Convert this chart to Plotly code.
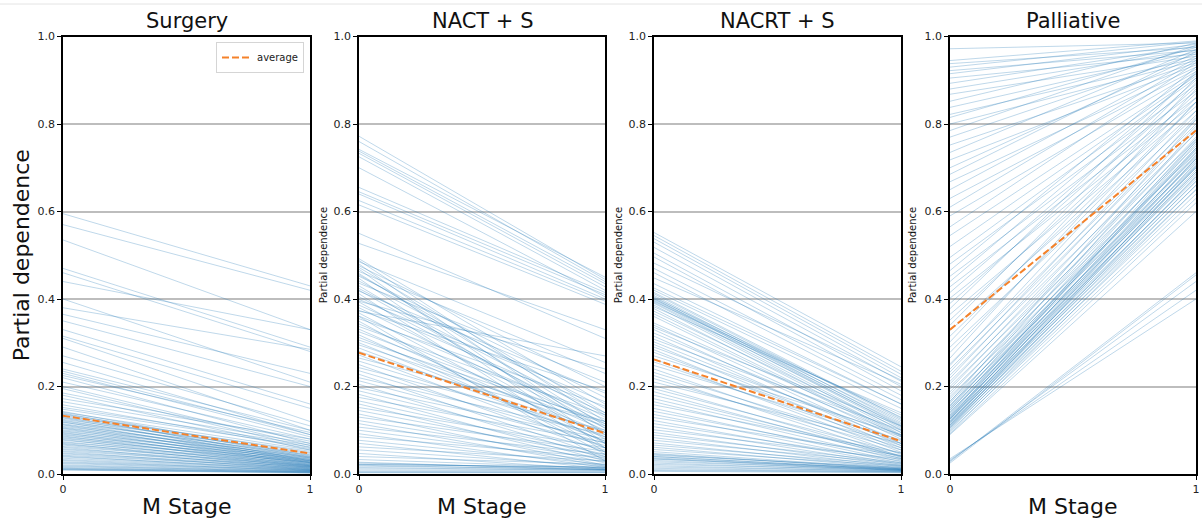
import plotly.graph_objects as go

# M Stage values on the x axis
m_stage = [0, 1]
x_tick_labels = ["0", "1"]
y_tick_values = [0.0, 0.2, 0.4, 0.6, 0.8, 1.0]
y_tick_labels = ["0.0", "0.2", "0.4", "0.6", "0.8", "1.0"]
panel_titles = ["Surgery", "NACT + S", "NACRT + S", "Palliative"]

# Individual conditional expectation curves: value at M=0 and at M=1
surgery_m0 = [0.595, 0.570, 0.535, 0.470, 0.460, 0.440, 0.400, 0.350, 0.330, 0.310, 0.290, 0.270,
              0.240, 0.235, 0.230, 0.225, 0.220, 0.210, 0.200, 0.195, 0.185, 0.180,
              0.148, 0.143, 0.141, 0.139, 0.137, 0.136, 0.133, 0.131, 0.129, 0.128, 0.125, 0.123,
              0.121, 0.119, 0.118, 0.115, 0.113, 0.112, 0.109, 0.107, 0.105, 0.104, 0.101, 0.099,
              0.097, 0.095, 0.093, 0.091, 0.089, 0.087, 0.085, 0.083, 0.081, 0.079, 0.077, 0.074,
              0.072, 0.070, 0.068, 0.066, 0.063, 0.061, 0.058, 0.056, 0.053, 0.051, 0.048, 0.046,
              0.043, 0.041, 0.039, 0.036, 0.033, 0.031, 0.028, 0.026, 0.024, 0.021, 0.019, 0.017,
              0.015, 0.013, 0.012, 0.011, 0.010, 0.009, 0.165, 0.172, 0.158, 0.152,
              0.380, 0.365, 0.315, 0.255]
surgery_m1 = [0.430, 0.420, 0.330, 0.290, 0.280, 0.330, 0.210, 0.200, 0.160, 0.120, 0.100, 0.110,
              0.100, 0.090, 0.085, 0.095, 0.070, 0.080, 0.065, 0.060, 0.075, 0.055,
              0.062, 0.041, 0.055, 0.038, 0.049, 0.030, 0.052, 0.036, 0.044, 0.027, 0.047, 0.033,
              0.040, 0.025, 0.043, 0.031, 0.037, 0.022, 0.039, 0.029, 0.034, 0.020, 0.036, 0.026,
              0.031, 0.018, 0.033, 0.024, 0.028, 0.016, 0.030, 0.021, 0.026, 0.014, 0.027, 0.019,
              0.024, 0.012, 0.022, 0.017, 0.020, 0.010, 0.019, 0.015, 0.017, 0.009, 0.016, 0.013,
              0.014, 0.008, 0.012, 0.011, 0.010, 0.007, 0.009, 0.008, 0.007, 0.006, 0.005, 0.006,
              0.004, 0.005, 0.004, 0.003, 0.003, 0.002, 0.070, 0.080, 0.058, 0.066,
              0.285, 0.230, 0.150, 0.090]

nact_m0 = [0.772, 0.760, 0.742, 0.738, 0.733, 0.725, 0.700, 0.655, 0.645, 0.640, 0.625, 0.615,
           0.550, 0.527,
           0.492, 0.488, 0.485, 0.480, 0.476, 0.472, 0.468, 0.463, 0.458, 0.452, 0.447, 0.441,
           0.436, 0.430, 0.424, 0.418, 0.412, 0.405, 0.399, 0.393, 0.386, 0.380, 0.374, 0.368,
           0.361, 0.355, 0.349, 0.343, 0.337, 0.331, 0.325, 0.318, 0.312, 0.306, 0.300, 0.372,
           0.395, 0.420, 0.455, 0.360,
           0.295, 0.288, 0.280, 0.272, 0.265, 0.258, 0.250, 0.243, 0.236, 0.228, 0.220, 0.213,
           0.205, 0.197, 0.190, 0.182, 0.175, 0.167, 0.160, 0.152, 0.145, 0.137, 0.130, 0.122,
           0.115, 0.107, 0.100, 0.092, 0.085, 0.077, 0.070, 0.062, 0.055, 0.047, 0.040, 0.033,
           0.027, 0.022, 0.018, 0.015, 0.012, 0.009, 0.006, 0.004, 0.003, 0.025, 0.022, 0.020]
nact_m1 = [0.445, 0.440, 0.450, 0.435, 0.428, 0.420, 0.405, 0.415, 0.410, 0.400, 0.395, 0.388,
           0.310, 0.330,
           0.160, 0.120, 0.255, 0.090, 0.200, 0.140, 0.070, 0.230, 0.110, 0.175, 0.060, 0.150,
           0.210, 0.095, 0.130, 0.185, 0.050, 0.115, 0.165, 0.080, 0.140, 0.105, 0.190, 0.070,
           0.125, 0.155, 0.045, 0.100, 0.135, 0.085, 0.115, 0.060, 0.095, 0.120, 0.075, 0.270,
           0.240, 0.105, 0.135, 0.030,
           0.110, 0.075, 0.095, 0.060, 0.120, 0.085, 0.050, 0.100, 0.070, 0.040, 0.090, 0.065,
           0.035, 0.080, 0.055, 0.030, 0.072, 0.045, 0.025, 0.060, 0.040, 0.020, 0.052, 0.033,
           0.018, 0.045, 0.028, 0.015, 0.038, 0.022, 0.012, 0.030, 0.018, 0.010, 0.022, 0.014,
           0.009, 0.016, 0.011, 0.008, 0.010, 0.007, 0.005, 0.004, 0.003, 0.012, 0.015, 0.010]

nacrt_m0 = [0.552, 0.545, 0.538, 0.530, 0.518, 0.505, 0.496, 0.482, 0.470, 0.460, 0.448, 0.435,
            0.412, 0.408, 0.405, 0.403, 0.401, 0.400, 0.398, 0.396, 0.394, 0.392, 0.390, 0.386,
            0.382, 0.378, 0.372, 0.366, 0.360, 0.420, 0.425, 0.415,
            0.345, 0.340, 0.335, 0.330, 0.322, 0.315, 0.308, 0.302, 0.296, 0.290, 0.284, 0.278,
            0.270, 0.263, 0.256, 0.248, 0.240, 0.232, 0.225, 0.218, 0.210, 0.202, 0.195, 0.188,
            0.180,
            0.172, 0.165, 0.158, 0.150, 0.143, 0.136, 0.129, 0.122, 0.115, 0.108, 0.101, 0.095,
            0.089, 0.083, 0.077, 0.071, 0.066, 0.061, 0.056, 0.051, 0.047, 0.043, 0.040, 0.037,
            0.034, 0.031, 0.028, 0.025, 0.022, 0.019, 0.016, 0.013, 0.010, 0.008, 0.006,
            0.045, 0.040, 0.035]
nacrt_m1 = [0.245, 0.235, 0.228, 0.220, 0.212, 0.200, 0.190, 0.215, 0.180, 0.170, 0.205, 0.160,
            0.125, 0.118, 0.112, 0.130, 0.108, 0.122, 0.115, 0.105, 0.135, 0.110, 0.100, 0.095,
            0.140, 0.090, 0.102, 0.088, 0.085, 0.150, 0.160, 0.128,
            0.095, 0.080, 0.110, 0.070, 0.088, 0.065, 0.100, 0.075, 0.060, 0.085, 0.055, 0.070,
            0.090, 0.050, 0.065, 0.078, 0.045, 0.060, 0.040, 0.055, 0.070, 0.038, 0.048, 0.035,
            0.042,
            0.040, 0.032, 0.048, 0.028, 0.036, 0.025, 0.042, 0.022, 0.030, 0.020, 0.034, 0.018,
            0.026, 0.016, 0.024, 0.014, 0.020, 0.013, 0.018, 0.012, 0.011, 0.015, 0.010, 0.009,
            0.012, 0.008, 0.010, 0.007, 0.009, 0.006, 0.007, 0.005, 0.005, 0.004, 0.003,
            0.012, 0.010, 0.008]

palliative_m0 = [0.972, 0.945, 0.938, 0.930, 0.922, 0.915, 0.905, 0.893, 0.880, 0.868, 0.852, 0.838,
                 0.822, 0.815, 0.800, 0.785, 0.770, 0.752, 0.735, 0.718, 0.700, 0.685, 0.668, 0.650,
                 0.630, 0.610, 0.590, 0.565, 0.545, 0.520,
                 0.495, 0.480, 0.465, 0.452, 0.440, 0.428, 0.415, 0.402, 0.390, 0.378, 0.365, 0.352,
                 0.340, 0.328, 0.315, 0.302, 0.290, 0.278, 0.265, 0.252,
                 0.248, 0.240, 0.233, 0.226, 0.219, 0.212, 0.206, 0.200, 0.194, 0.188, 0.182, 0.177,
                 0.172, 0.167, 0.162, 0.158, 0.154, 0.150, 0.146, 0.142, 0.138, 0.134, 0.130, 0.127,
                 0.124, 0.121, 0.118, 0.115, 0.112, 0.110, 0.107, 0.104, 0.101, 0.098, 0.095, 0.092,
                 0.090, 0.135, 0.145, 0.125, 0.155, 0.118, 0.165, 0.108, 0.128,
                 0.140, 0.120, 0.112, 0.132, 0.150, 0.105, 0.116, 0.126,
                 0.035, 0.030, 0.028, 0.025, 0.032]
palliative_m1 = [0.985, 0.990, 0.975, 0.988, 0.968, 0.982, 0.960, 0.978, 0.970, 0.955, 0.985, 0.965,
                 0.950, 0.975, 0.945, 0.980, 0.960, 0.940, 0.970, 0.935, 0.955, 0.965, 0.930, 0.950,
                 0.925, 0.945, 0.920, 0.940, 0.915, 0.910,
                 0.905, 0.890, 0.930, 0.875, 0.915, 0.860, 0.900, 0.850, 0.885, 0.920, 0.840, 0.870,
                 0.905, 0.830, 0.860, 0.895, 0.820, 0.850, 0.880, 0.810,
                 0.850, 0.800, 0.830, 0.780, 0.815, 0.765, 0.795, 0.750, 0.780, 0.735, 0.770, 0.725,
                 0.760, 0.715, 0.745, 0.705, 0.740, 0.700, 0.730, 0.690, 0.720, 0.685, 0.710, 0.675,
                 0.700, 0.668, 0.690, 0.660, 0.680, 0.650, 0.670, 0.640, 0.660, 0.630, 0.650, 0.620,
                 0.600, 0.760, 0.745, 0.735, 0.790, 0.720, 0.810, 0.705, 0.755,
                 0.742, 0.712, 0.695, 0.728, 0.765, 0.680, 0.702, 0.722,
                 0.400, 0.440, 0.460, 0.455, 0.420]

# Partial dependence averaged over samples
surgery_avg = [0.133, 0.047]
nact_avg = [0.277, 0.093]
nacrt_avg = [0.262, 0.075]
palliative_avg = [0.330, 0.785]

panels = [
    (surgery_m0, surgery_m1, surgery_avg),
    (nact_m0, nact_m1, nact_avg),
    (nacrt_m0, nacrt_m1, nacrt_avg),
    (palliative_m0, palliative_m1, palliative_avg),
]

W, H = 1202, 522
FONT = "DejaVu Sans"
# plot-area pixel boxes (left, right) and shared top/bottom
x_px = [(63, 310), (359, 605), (654, 901), (950, 1196)]
top_px, bottom_px = 36.5, 474

ICE_COLOR = "rgba(31,119,180,0.36)"
AVG_COLOR = "#f5822a"

fig = go.Figure()
for i, (m0, m1, avg) in enumerate(panels):
    xa = "x" if i == 0 else f"x{i + 1}"
    ya = "y" if i == 0 else f"y{i + 1}"
    for a, b in zip(m0, m1):
        fig.add_trace(go.Scatter(
            x=m_stage, y=[a, b], mode="lines",
            line=dict(color=ICE_COLOR, width=0.8),
            xaxis=xa, yaxis=ya, showlegend=False, hoverinfo="skip"))
    fig.add_trace(go.Scatter(
        x=m_stage, y=avg, mode="lines", name="average",
        line=dict(color=AVG_COLOR, width=2, dash="7px,3px"),
        xaxis=xa, yaxis=ya, showlegend=(i == 0)))

layout = dict(
    width=W, height=H,
    margin=dict(l=0, r=0, t=0, b=0),
    paper_bgcolor="white", plot_bgcolor="white",
    font=dict(family=FONT, color="#222222", size=11),
    legend=dict(
        x=304 / W, xanchor="right", y=1 - 42 / H, yanchor="top",
        bgcolor="rgba(255,255,255,0.8)", bordercolor="#d5d5d5", borderwidth=1,
        font=dict(family=FONT, size=10, color="#222222"),
        itemwidth=30, tracegroupgap=0,
    ),
)

y_dom = [1 - bottom_px / H, 1 - top_px / H]
annotations = []
for i, (l, r) in enumerate(x_px):
    key = "" if i == 0 else str(i + 1)
    layout[f"xaxis{key}"] = dict(
        domain=[l / W, r / W], anchor=f"y{key}", range=[0, 1],
        tickvals=m_stage, ticktext=x_tick_labels,
        showgrid=False, zeroline=False, automargin=False,
        showline=True, mirror=True, linecolor="black", linewidth=1.5,
        ticks="outside", ticklen=4, tickwidth=1, tickcolor="black",
        tickfont=dict(family=FONT, size=11, color="#222222"),
    )
    layout[f"yaxis{key}"] = dict(
        domain=y_dom, anchor=f"x{key}", range=[0, 1],
        tickvals=y_tick_values, ticktext=y_tick_labels,
        showgrid=True, gridcolor="#bdbdbd", gridwidth=1.5,
        zeroline=False, automargin=False,
        showline=True, mirror=True, linecolor="black", linewidth=1.5,
        ticks="outside", ticklen=4, tickwidth=1, tickcolor="black",
        tickfont=dict(family=FONT, size=11, color="#222222"),
    )
    cx = (l + r) / 2 / W
    annotations.append(dict(
        text=panel_titles[i], x=cx, y=1 - 35 / H, xref="paper", yref="paper",
        xanchor="center", yanchor="bottom", showarrow=False,
        font=dict(family=FONT, size=21, color="#111111")))
    if i != 2:
        annotations.append(dict(
            text="M Stage", x=cx, y=1 - 506 / H, xref="paper", yref="paper",
            xanchor="center", yanchor="middle", showarrow=False,
            font=dict(family=FONT, size=22, color="#111111")))

# y axis titles: large on the first panel, small on the others
mid_y = 1 - (top_px + bottom_px) / 2 / H
annotations.append(dict(
    text="Partial dependence", x=21 / W, y=mid_y, xref="paper", yref="paper",
    xanchor="center", yanchor="middle", textangle=-90, showarrow=False,
    font=dict(family=FONT, size=22, color="#111111")))
for px in (323, 618, 912):
    annotations.append(dict(
        text="Partial dependence", x=px / W, y=mid_y, xref="paper", yref="paper",
        xanchor="center", yanchor="middle", textangle=-90, showarrow=False,
        font=dict(family=FONT, size=10, color="#111111")))

layout["annotations"] = annotations
layout["shapes"] = [dict(type="line", xref="paper", yref="paper",
                         x0=0, x1=1, y0=1 - 4 / H, y1=1 - 4 / H,
                         line=dict(color="#e4e4e4", width=1))]
fig.update_layout(**layout)
fig.write_html("out.html")
